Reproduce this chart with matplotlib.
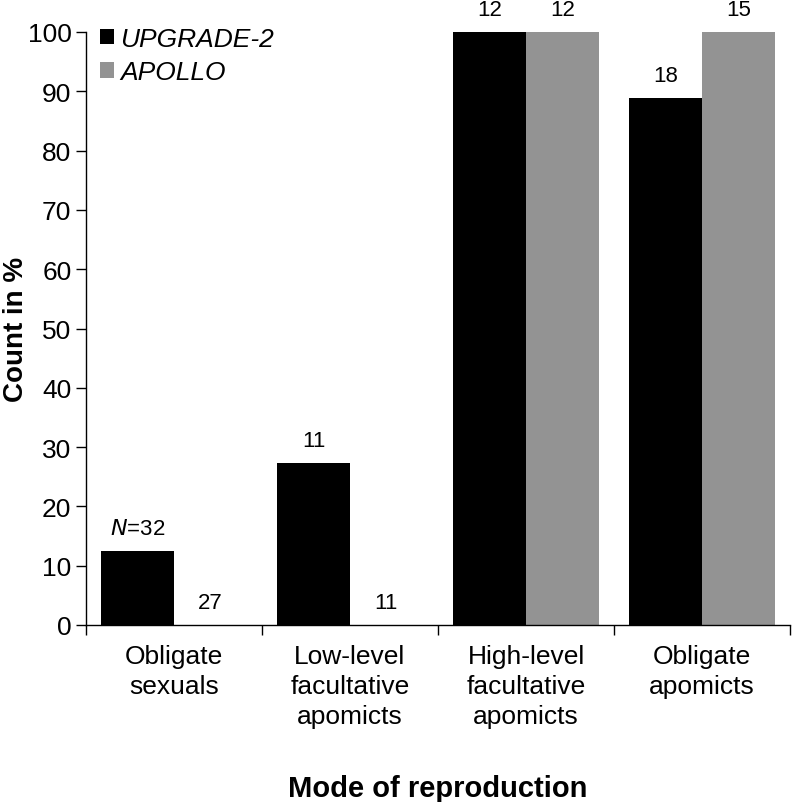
import numpy as np
import matplotlib.pyplot as plt

plt.rcParams['font.family'] = ['Liberation Sans', 'DejaVu Sans']

categories = ['Obligate\nsexuals', 'Low-level\nfacultative\napomicts',
              'High-level\nfacultative\napomicts', 'Obligate\napomicts']
upgrade = [12.5, 27.3, 100, 88.9]
apollo = [0, 0, 100, 100]
upgrade_n = ['32', '11', '12', '18']
apollo_n = ['27', '11', '12', '15']

fig = plt.figure(figsize=(7.93, 8.03), dpi=100)
ax = fig.add_axes([86 / 793, 1 - 626 / 803, 704 / 793, 593 / 803])

x = np.arange(len(categories))
w = 0.415
off = 0.207
ax.bar(x - off, upgrade, w, color='black', label='UPGRADE-2')
ax.bar(x + off, apollo, w, color='#939393', label='APOLLO')

for i in range(len(categories)):
    lab = upgrade_n[i]
    if i == 0:
        lab = '$\\it{N}$=' + lab
    ax.text(x[i] - off, upgrade[i] + 2, lab, ha='center', va='bottom', fontsize=16)
    ax.text(x[i] + off, apollo[i] + 2, apollo_n[i], ha='center', va='bottom', fontsize=16)

ax.set_xlim(-0.5, 3.5)
ax.set_ylim(0, 100)
ax.set_yticks(np.arange(0, 101, 10))
ax.set_xticks(x)
ax.set_xticklabels(categories, fontsize=19, linespacing=1.3)
ax.set_xticks(np.arange(-0.5, 3.6, 1), minor=True)
ax.tick_params(axis='x', which='major', length=0, pad=14)
ax.tick_params(axis='x', which='minor', length=7, width=1, direction='out')
ax.tick_params(axis='y', labelsize=19, length=7, width=1, direction='out')

for s in ['top', 'right']:
    ax.spines[s].set_visible(False)
ax.spines['left'].set_linewidth(1)
ax.spines['bottom'].set_linewidth(1)

ax.set_ylabel('Count in %', fontsize=20, fontweight='bold')
ax.yaxis.set_label_coords(-0.081, 0.5)
ax.set_xlabel('Mode of reproduction', fontsize=21, fontweight='bold')
ax.xaxis.set_label_coords(0.5, -0.251)

leg = ax.legend(loc='upper left', bbox_to_anchor=(0.005, 1.026), frameon=False,
                fontsize=19, handlelength=0.52, handleheight=0.52,
                handletextpad=0.25, labelspacing=0.35, borderaxespad=0.1,
                borderpad=0.3)
for t in leg.get_texts():
    t.set_fontstyle('italic')

fig.savefig('out.png', dpi=100)
